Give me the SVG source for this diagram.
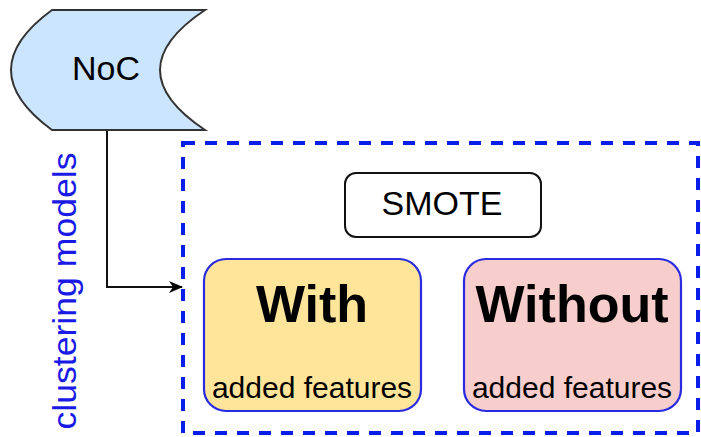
<svg xmlns="http://www.w3.org/2000/svg" width="701" height="437" viewBox="0 0 701 437">
<style>
text{font-family:"Liberation Sans",Arial,sans-serif;}
.card{stroke:#2a2ae0;stroke-width:2.2;}
.big{font-weight:bold;font-size:52px;text-anchor:middle;}
.small{font-size:30px;text-anchor:middle;}
</style>
<defs>
<marker id="arr" markerWidth="14" markerHeight="12" refX="13" refY="6" orient="auto" markerUnits="userSpaceOnUse">
<path d="M0,0 L14,6 L0,12 L4,6 Z" fill="#000"/>
</marker>
</defs>
<rect width="701" height="437" fill="#fff"/>
<g id="cluster">
<rect x="183" y="143" width="515" height="290" fill="none" stroke="#0a1eea" stroke-width="4" stroke-dasharray="12 10"/>
<text transform="translate(76,291) rotate(-90)" text-anchor="middle" font-size="33" fill="#1a1ae6" textLength="277" lengthAdjust="spacingAndGlyphs">clustering models</text>
</g>
<g id="connectors">
<path d="M107,130 V287 H182" fill="none" stroke="#111" stroke-width="2" marker-end="url(#arr)"/>
</g>
<g id="noc">
<path d="M52,10 H205 Q115,70 205,130 H52 Q-30,70 52,10 Z" fill="#cce5ff" stroke="#333" stroke-width="2"/>
<text x="106" y="80" font-size="34" text-anchor="middle">NoC</text>
</g>
<g id="smote">
<rect x="345" y="173" width="196" height="64" rx="11" fill="#fff" stroke="#111" stroke-width="2"/>
<text x="442" y="215" font-size="34" text-anchor="middle">SMOTE</text>
</g>
<g id="with">
<rect class="card" x="204" y="259" width="217" height="152" rx="22" fill="#ffe599"/>
<text class="big" x="312" y="322">With</text>
<text class="small" x="312" y="398">added features</text>
</g>
<g id="without">
<rect class="card" x="464" y="259" width="217" height="152" rx="22" fill="#f8cecc"/>
<text class="big" x="572" y="322">Without</text>
<text class="small" x="572" y="398">added features</text>
</g>
</svg>
